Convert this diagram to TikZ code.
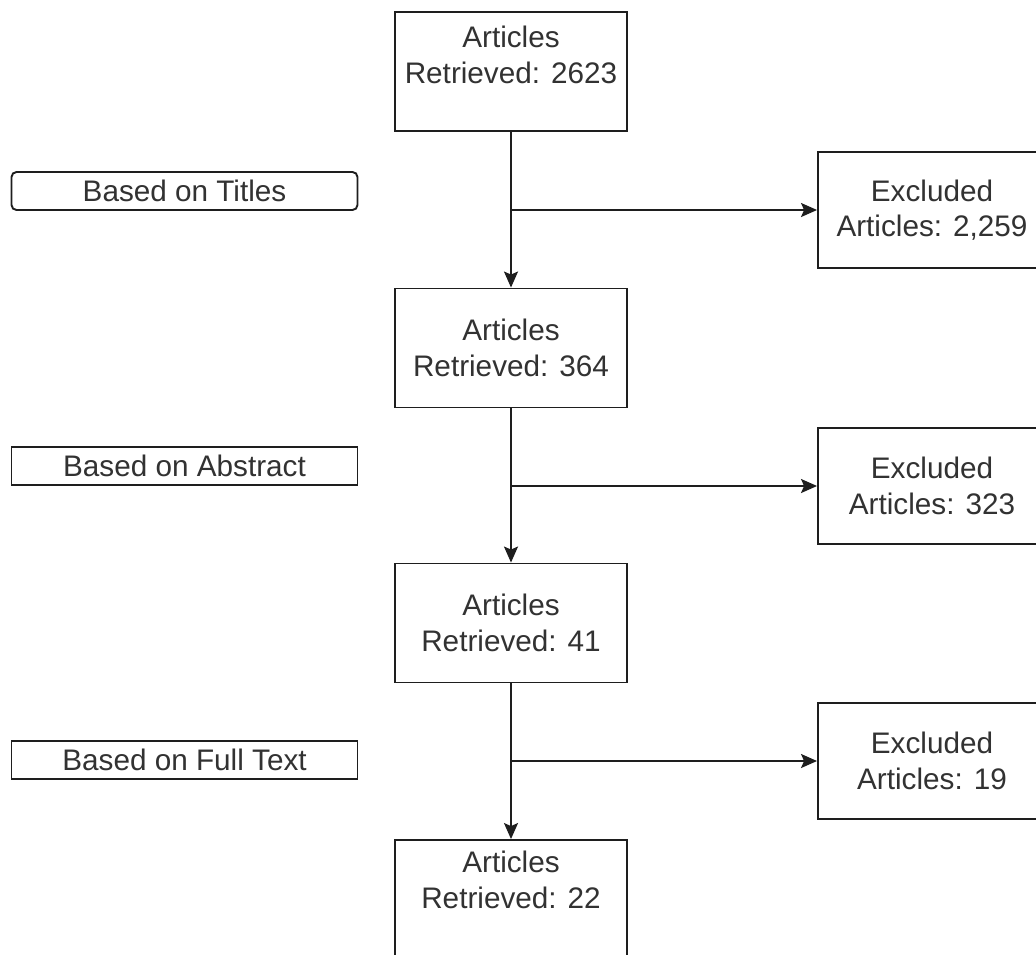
\documentclass[tikz,border=0pt]{standalone}
\usepackage{fontspec}
\setmainfont{Liberation Sans}
\usetikzlibrary{arrows.meta}
\definecolor{linec}{RGB}{30,30,30}
\definecolor{textc}{RGB}{50,50,50}
\tikzset{
  boxbase/.style={draw=linec, line width=1.9pt, fill=white, inner sep=0pt, align=center, text=textc,
    font=\fontsize{29.7}{35.6}\selectfont},
  mainbox/.style={boxbase, minimum width=232pt, minimum height=119pt},
  exbox/.style={boxbase, minimum width=228pt, minimum height=116pt},
  lblbox/.style={boxbase, minimum width=346pt, minimum height=38pt},
  txt/.style={inner sep=0pt, align=center, text=textc, font=\fontsize{29.7}{35.6}\selectfont},
  flow/.style={draw=linec, line width=1.9pt, -{Stealth[length=16pt,width=14pt,inset=3pt]}}
}
\begin{document}
\begin{tikzpicture}[x=1pt,y=-1pt]
\useasboundingbox (0,0) rectangle (1036,954);
\begin{scope}
\clip (0,0) rectangle (1036,954);
% main column
\node[mainbox] (b1) at (511,71.5) {};
\node[txt] (t1) at (511,55) {Articles\\Retrieved: 2623};
\node[mainbox] (b2) at (511,348) {Articles\\Retrieved: 364};
\node[mainbox] (b3) at (511,623) {Articles\\Retrieved: 41};
\node[mainbox] (b4) at (511,899.5) {};
\node[txt] (t4) at (511,880) {Articles\\Retrieved: 22};
% excluded boxes
\node[exbox] (e1) at (932,210) {Excluded\\Articles: 2,259};
\node[exbox] (e2) at (932,486) {Excluded\\Articles: 323};
\node[exbox] (e3) at (932,761) {Excluded\\Articles: 19};
% stage labels
\node[lblbox, rounded corners=5pt] (l1) at (184.5,191) {Based on Titles};
\node[lblbox] (l2) at (184.5,466) {Based on Abstract};
\node[lblbox] (l3) at (184.5,760) {Based on Full Text};
% connectors
\draw[flow] (b1.south) -- (b2.north);
\draw[flow] (b2.south) -- (b3.north);
\draw[flow] (b3.south) -- (b4.north);
\coordinate (j1) at (b1.south |- e1.west);
\coordinate (j2) at (b2.south |- e2.west);
\coordinate (j3) at (b3.south |- e3.west);
\draw[flow] (j1) -- (e1.west);
\draw[flow] (j2) -- (e2.west);
\draw[flow] (j3) -- (e3.west);
\end{scope}
\end{tikzpicture}
\end{document}
